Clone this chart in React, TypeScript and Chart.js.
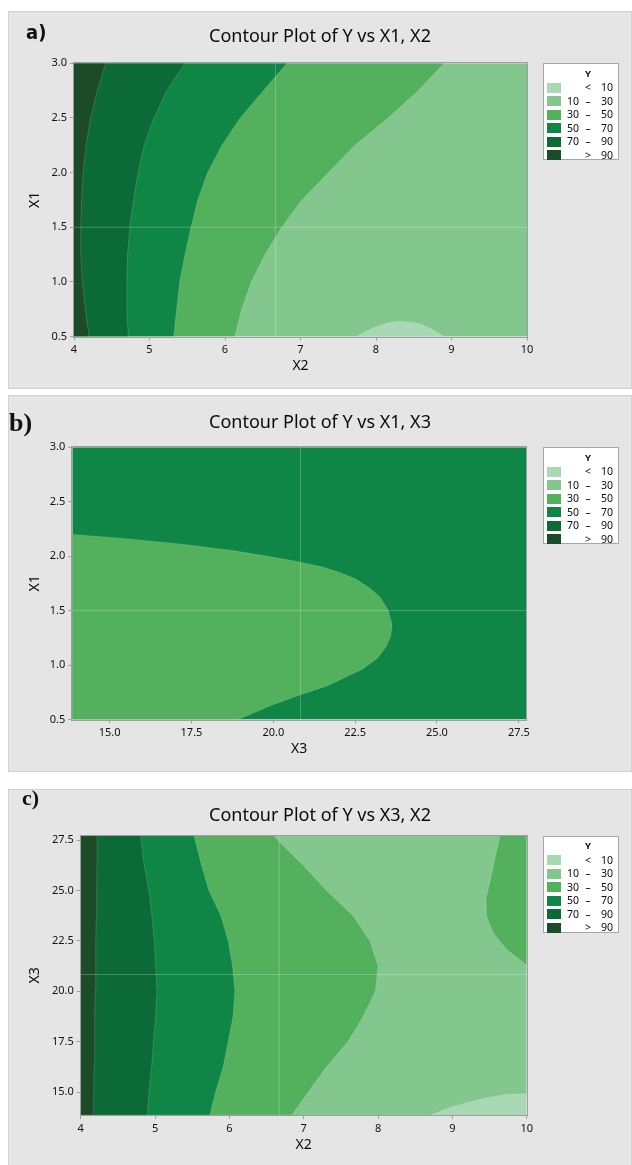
import React, { useEffect, useRef } from 'react';
import { Chart, registerables } from 'chart.js';

Chart.register(...registerables);

const FONT = '"Noto Sans", "Open Sans", "DejaVu Sans", sans-serif';
Chart.defaults.font.family = FONT;

// ---------------- data ----------------
const X2_RANGE = [4, 10];
const X1_RANGE = [0.5, 3.0];
const X3_RANGE = [13.86, 27.72];
const X2_TICKS = [4, 5, 6, 7, 8, 9, 10];
const X1_TICKS = [0.5, 1.0, 1.5, 2.0, 2.5, 3.0];
const X3_TICKS = [15.0, 17.5, 20.0, 22.5, 25.0, 27.5];
const REF_X2 = 6.67;
const REF_X1 = 1.5;
const REF_X3 = 20.83;

// Y classes: <10, 10-30, 30-50, 50-70, 70-90, >90
const LEVEL_COLORS = ['#a9d8b5', '#83c78f', '#53b05c', '#0f8645', '#0c6a37', '#1c4b27'];
const LEGEND_LOW = ['', '10', '30', '50', '70', ''];
const LEGEND_OP = ['<', '–', '–', '–', '–', '>'];
const LEGEND_HIGH = ['10', '30', '50', '70', '90', '90'];

// panel a) Y vs X1 (vertical), X2 (horizontal): contour X2 positions at each X1 level
const A_X1 = [0.5, 0.75, 1.0, 1.25, 1.5, 1.75, 2.0, 2.25, 2.5, 2.75, 3.0];
const A_B90 = [4.2, 4.15, 4.11, 4.09, 4.09, 4.1, 4.12, 4.16, 4.22, 4.31, 4.42];
const A_B70 = [4.72, 4.7, 4.7, 4.71, 4.74, 4.79, 4.85, 4.93, 5.06, 5.23, 5.47];
const A_B50 = [5.32, 5.36, 5.4, 5.47, 5.55, 5.64, 5.77, 5.96, 6.2, 6.51, 6.82];
const A_B30 = [6.13, 6.22, 6.35, 6.53, 6.75, 7.02, 7.37, 7.72, 8.16, 8.56, 8.9];
const A_LOW_X2 = [7.74, 7.98, 8.16, 8.33, 8.59, 8.77, 8.9];
const A_LOW_X1 = [0.5, 0.585, 0.625, 0.64, 0.616, 0.555, 0.5];

// panel b) Y vs X1, X3: edge of the 30-50 zone
const B_EDGE_X3 = [13.86, 15.5, 17.2, 18.8, 20.05, 20.83, 21.5, 21.98, 22.49, 22.9, 23.26, 23.51, 23.63, 23.58, 23.45, 23.2, 22.75, 21.68, 20.83, 19.94, 18.92];
const B_EDGE_X1 = [2.2, 2.16, 2.11, 2.05, 1.988, 1.945, 1.9, 1.855, 1.795, 1.717, 1.626, 1.503, 1.37, 1.26, 1.17, 1.07, 0.967, 0.813, 0.727, 0.63, 0.5];

// panel c) Y vs X3 (vertical), X2 (horizontal): contour X2 positions at each X3 level
const C_X3 = [13.86, 15.0, 16.25, 17.5, 18.75, 20.0, 21.25, 22.5, 23.75, 25.0, 26.25, 27.72];
const C_B90 = [4.17, 4.175, 4.18, 4.185, 4.19, 4.195, 4.2, 4.205, 4.21, 4.215, 4.22, 4.22];
const C_B70 = [4.895, 4.92, 4.954, 4.98, 5.008, 5.026, 5.01, 4.99, 4.958, 4.918, 4.855, 4.806];
const C_B50 = [5.738, 5.815, 5.917, 5.984, 6.05, 6.074, 6.043, 5.984, 5.886, 5.724, 5.626, 5.523];
const C_B30 = [6.844, 7.06, 7.306, 7.597, 7.8, 7.965, 8.0, 7.889, 7.664, 7.306, 6.992, 6.589];
const C_HI_X2 = [9.64, 9.55, 9.45, 9.46, 9.55, 9.73, 10.0];
const C_HI_X3 = [27.72, 26.18, 24.54, 23.71, 22.89, 22.07, 21.29];
const C_LOW_X2 = [8.71, 8.98, 9.42, 9.74, 10.0];
const C_LOW_X3 = [13.86, 14.25, 14.68, 14.89, 14.92];

// ---------------- helpers ----------------
type Pt = { x: number; y: number };
const pts = (xs: number[], ys: number[]): Pt[] => xs.map((x, i) => ({ x, y: ys[i] }));
const leftOf = (bx: number[], ys: number[], xMin: number): Pt[] => [
  { x: xMin, y: ys[0] },
  ...pts(bx, ys),
  { x: xMin, y: ys[ys.length - 1] },
];
const rect = (xr: number[], yr: number[]): Pt[] => [
  { x: xr[0], y: yr[0] },
  { x: xr[1], y: yr[0] },
  { x: xr[1], y: yr[1] },
  { x: xr[0], y: yr[1] },
];

const region = (data: Pt[], color: string, edge = true) => ({
  data,
  showLine: true,
  fill: 'shape',
  backgroundColor: color,
  borderColor: edge ? 'rgba(255,255,255,0.16)' : 'rgba(0,0,0,0)',
  borderWidth: edge ? 1 : 0,
  pointRadius: 0,
  pointHoverRadius: 0,
  tension: 0,
});
const refLine = (data: Pt[]) => ({
  data,
  showLine: true,
  fill: false,
  borderColor: 'rgba(255,255,255,0.24)',
  borderWidth: 1,
  pointRadius: 0,
  pointHoverRadius: 0,
});

const fmt1 = (v: number) => Number(v).toFixed(1);
const fmt0 = (v: number) => String(Math.round(Number(v)));

const framePlugin = {
  id: 'plotFrame',
  afterDatasetsDraw(chart: any) {
    const { ctx, chartArea } = chart;
    const l = Math.round(chartArea.left), t = Math.round(chartArea.top);
    const r = Math.round(chartArea.right), b = Math.round(chartArea.bottom);
    ctx.save();
    ctx.strokeStyle = '#9e9e9e';
    ctx.lineWidth = 1;
    ctx.strokeRect(l - 0.5, t - 0.5, r - l + 1, b - t + 1);
    ctx.restore();
  },
};

type PanelCfg = {
  label: string;
  labelStyle: React.CSSProperties;
  top: number;
  height: number;
  title: string;
  xTitle: string;
  yTitle: string;
  xRange: number[];
  yRange: number[];
  xTicks: number[];
  yTicks: number[];
  xFmt: (v: number) => string;
  yFmt: (v: number) => string;
  datasets: any[];
  plotLeft: number;
  rightW: number;
  titleTop: number;
  titleBottom: number;
  xAxisH: number;
  xTitlePadB: number;
  yTitlePadT: number;
  legendTop: number;
};

const PANELS: PanelCfg[] = [
  {
    label: 'a)',
    labelStyle: { left: 18, top: 11, fontFamily: '"DejaVu Sans Condensed", "Liberation Sans Narrow", "DejaVu Sans", sans-serif', fontStretch: 'condensed', fontWeight: 'bold', fontSize: 20, lineHeight: '20px' },
    top: 11,
    height: 378,
    title: 'Contour Plot of Y vs X1, X2',
    xTitle: 'X2',
    yTitle: 'X1',
    xRange: X2_RANGE,
    yRange: X1_RANGE,
    xTicks: X2_TICKS,
    yTicks: X1_TICKS,
    xFmt: fmt0,
    yFmt: fmt1,
    datasets: [
      refLine([{ x: REF_X2, y: X1_RANGE[0] }, { x: REF_X2, y: X1_RANGE[1] }]),
      refLine([{ x: X2_RANGE[0], y: REF_X1 }, { x: X2_RANGE[1], y: REF_X1 }]),
      region(pts(A_LOW_X2, A_LOW_X1), LEVEL_COLORS[0]),
      region(leftOf(A_B90, A_X1, X2_RANGE[0]), LEVEL_COLORS[5]),
      region(leftOf(A_B70, A_X1, X2_RANGE[0]), LEVEL_COLORS[4]),
      region(leftOf(A_B50, A_X1, X2_RANGE[0]), LEVEL_COLORS[3]),
      region(leftOf(A_B30, A_X1, X2_RANGE[0]), LEVEL_COLORS[2]),
      region(rect(X2_RANGE, X1_RANGE), LEVEL_COLORS[1], false),
    ],
    plotLeft: 66,
    rightW: 105,
    titleTop: 15.2,
    titleBottom: 15.5,
    xAxisH: 52.5,
    xTitlePadB: 14.6,
    yTitlePadT: 18.6,
    legendTop: 52,
  },
  {
    label: 'b)',
    labelStyle: { left: 1, top: 15, fontFamily: '"Liberation Serif", "DejaVu Serif", serif', fontWeight: 'bold', fontSize: 26, lineHeight: '26px' },
    top: 395,
    height: 377,
    title: 'Contour Plot of Y vs X1, X3',
    xTitle: 'X3',
    yTitle: 'X1',
    xRange: X3_RANGE,
    yRange: X1_RANGE,
    xTicks: X3_TICKS,
    yTicks: X1_TICKS,
    xFmt: fmt1,
    yFmt: fmt1,
    datasets: [
      refLine([{ x: REF_X3, y: X1_RANGE[0] }, { x: REF_X3, y: X1_RANGE[1] }]),
      refLine([{ x: X3_RANGE[0], y: REF_X1 }, { x: X3_RANGE[1], y: REF_X1 }]),
      region([...pts(B_EDGE_X3, B_EDGE_X1), { x: X3_RANGE[0], y: X1_RANGE[0] }], LEVEL_COLORS[2]),
      region(rect(X3_RANGE, X1_RANGE), LEVEL_COLORS[3], false),
    ],
    plotLeft: 64.3,
    rightW: 106,
    titleTop: 16.9,
    titleBottom: 13.8,
    xAxisH: 52.5,
    xTitlePadB: 14.3,
    yTitlePadT: 18.6,
    legendTop: 52,
  },
  {
    label: 'c)',
    labelStyle: { left: 14, top: -2, fontFamily: '"Liberation Serif", "DejaVu Serif", serif', fontWeight: 'bold', fontSize: 22, lineHeight: '22px' },
    top: 789,
    height: 377,
    title: 'Contour Plot of Y vs X3, X2',
    xTitle: 'X2',
    yTitle: 'X3',
    xRange: X2_RANGE,
    yRange: X3_RANGE,
    xTicks: X2_TICKS,
    yTicks: X3_TICKS,
    xFmt: fmt0,
    yFmt: fmt1,
    datasets: [
      refLine([{ x: REF_X2, y: X3_RANGE[0] }, { x: REF_X2, y: X3_RANGE[1] }]),
      refLine([{ x: X2_RANGE[0], y: REF_X3 }, { x: X2_RANGE[1], y: REF_X3 }]),
      region([...pts(C_LOW_X2, C_LOW_X3), { x: X2_RANGE[1], y: X3_RANGE[0] }], LEVEL_COLORS[0]),
      region(leftOf(C_B90, C_X3, X2_RANGE[0]), LEVEL_COLORS[5]),
      region(leftOf(C_B70, C_X3, X2_RANGE[0]), LEVEL_COLORS[4]),
      region(leftOf(C_B50, C_X3, X2_RANGE[0]), LEVEL_COLORS[3]),
      region(leftOf(C_B30, C_X3, X2_RANGE[0]), LEVEL_COLORS[2]),
      region([...pts(C_HI_X2, C_HI_X3), { x: X2_RANGE[1], y: X3_RANGE[1] }], LEVEL_COLORS[2]),
      region(rect(X2_RANGE, X3_RANGE), LEVEL_COLORS[1], false),
    ],
    plotLeft: 72.7,
    rightW: 105.3,
    titleTop: 16.2,
    titleBottom: 8.8,
    xAxisH: 51,
    xTitlePadB: 12.6,
    yTitlePadT: 18.6,
    legendTop: 46.5,
  },
];

function buildConfig(c: PanelCfg): any {
  const tickFont = { family: FONT, size: 11 };
  const axisTitleFont = { family: FONT, size: 14 };
  return {
    type: 'line',
    data: { datasets: c.datasets },
    options: {
      responsive: false,
      maintainAspectRatio: false,
      animation: false,
      events: [],
      layout: { padding: 0 },
      plugins: {
        legend: { display: false },
        tooltip: { enabled: false },
        title: {
          display: true,
          text: c.title,
          color: '#0a0a0a',
          font: { family: FONT, size: 18, weight: 'normal', lineHeight: 1.2 },
          padding: { top: c.titleTop, bottom: c.titleBottom },
        },
      },
      scales: {
        x: {
          type: 'linear',
          position: 'bottom',
          min: c.xRange[0],
          max: c.xRange[1],
          afterBuildTicks: (s: any) => {
            s.ticks = c.xTicks.map((v) => ({ value: v }));
          },
          afterFit: (s: any) => {
            s.height = c.xAxisH;
          },
          ticks: { callback: (v: any) => c.xFmt(v), color: '#111111', font: tickFont, padding: 3, maxRotation: 0, autoSkip: false },
          grid: { display: true, drawOnChartArea: false, drawTicks: true, tickLength: 4, color: '#9e9e9e' },
          border: { display: false },
          title: { display: true, text: c.xTitle, color: '#0a0a0a', font: axisTitleFont, padding: { top: 0, bottom: c.xTitlePadB } },
        },
        y: {
          type: 'linear',
          position: 'left',
          min: c.yRange[0],
          max: c.yRange[1],
          afterBuildTicks: (s: any) => {
            s.ticks = c.yTicks.map((v) => ({ value: v }));
          },
          afterFit: (s: any) => {
            s.width = c.plotLeft;
          },
          ticks: { callback: (v: any) => c.yFmt(v), color: '#111111', font: tickFont, padding: 3, autoSkip: false },
          grid: { display: true, drawOnChartArea: false, drawTicks: true, tickLength: 4, color: '#9e9e9e' },
          border: { display: false },
          title: { display: true, text: c.yTitle, color: '#0a0a0a', font: axisTitleFont, padding: { top: c.yTitlePadT, bottom: 0 } },
        },
        yR: {
          type: 'linear',
          position: 'right',
          display: true,
          ticks: { display: false },
          grid: { display: false },
          border: { display: false },
          afterFit: (s: any) => {
            s.width = c.rightW;
          },
        },
      },
    },
    plugins: [framePlugin],
  };
}

function Legend({ top }: { top: number }) {
  return (
    <div
      style={{
        position: 'absolute',
        left: 535,
        top,
        width: 76,
        height: 97,
        background: '#ffffff',
        border: '1px solid #a6a6a6',
        boxSizing: 'border-box',
        fontFamily: FONT,
        fontSize: 10.5,
        color: '#0a0a0a',
      }}
    >
      <div style={{ position: 'absolute', left: 29, top: 3.5, width: 30, textAlign: 'center', fontSize: 9.5, fontWeight: 'bold', lineHeight: '12px' }}>Y</div>
      {LEVEL_COLORS.map((col, i) => {
        const cy = 23.5 + i * 13.55;
        return (
          <React.Fragment key={i}>
            <div style={{ position: 'absolute', left: 3, top: cy - 5, width: 14, height: 10, background: col }} />
            <div style={{ position: 'absolute', left: 18, top: cy - 6.5, width: 17, textAlign: 'right', lineHeight: '13px' }}>{LEGEND_LOW[i]}</div>
            <div style={{ position: 'absolute', left: 38, top: cy - 6.5, width: 12, textAlign: 'center', lineHeight: '13px' }}>{LEGEND_OP[i]}</div>
            <div style={{ position: 'absolute', left: 52, top: cy - 6.5, width: 17, textAlign: 'right', lineHeight: '13px' }}>{LEGEND_HIGH[i]}</div>
          </React.Fragment>
        );
      })}
    </div>
  );
}

function Panel({ cfg }: { cfg: PanelCfg }) {
  const ref = useRef<HTMLCanvasElement | null>(null);
  useEffect(() => {
    if (!ref.current) return;
    const chart = new Chart(ref.current, buildConfig(cfg));
    return () => chart.destroy();
  }, [cfg]);
  return (
    <div
      style={{
        position: 'absolute',
        left: 8,
        top: cfg.top,
        width: 624,
        height: cfg.height,
        background: '#e5e5e5',
        boxShadow: 'inset 0 0 0 1px #d2d2d2',
      }}
    >
      <canvas ref={ref} width={624} height={cfg.height} style={{ position: 'absolute', left: 0, top: 0, width: 624, height: cfg.height }} />
      <div style={{ position: 'absolute', color: '#111', whiteSpace: 'nowrap', ...cfg.labelStyle }}>{cfg.label}</div>
      <Legend top={cfg.legendTop} />
    </div>
  );
}

export default function App() {
  return (
    <div style={{ position: 'absolute', left: 0, top: 0, width: 632, height: 1165, overflow: 'hidden', background: '#ffffff' }}>
      {PANELS.map((p) => (
        <Panel key={p.label} cfg={p} />
      ))}
    </div>
  );
}
